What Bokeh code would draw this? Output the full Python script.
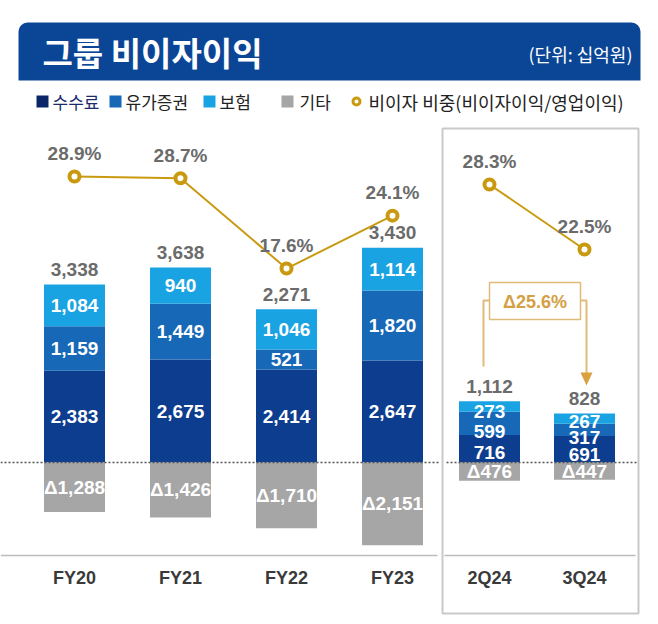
from bokeh.plotting import figure
from bokeh.models import Range1d, BoxAnnotation
from bokeh.core.properties import value
from bokeh.embed import file_html
from bokeh.resources import INLINE

# ---------------- data ----------------
title = "그룹 비이자이익"
unit_note = "(단위: 십억원)"
categories = ["FY20", "FY21", "FY22", "FY23", "2Q24", "3Q24"]
fees = [2383, 2675, 2414, 2647, 716, 691]          # 수수료
securities = [1159, 1449, 521, 1820, 599, 317]     # 유가증권
insurance = [1084, 940, 1046, 1114, 273, 267]      # 보험
others = [-1288, -1426, -1710, -2151, -476, -447]  # 기타
totals = [3338, 3638, 2271, 3430, 1112, 828]
ratio = [28.9, 28.7, 17.6, 24.1, 28.3, 22.5]       # 비이자 비중 (%)
legend_labels = ["수수료", "유가증권", "보험", "기타", "비이자 비중(비이자이익/영업이익)"]
change_label = "Δ25.6%"

# ---------------- style / layout ----------------
C_FEE, C_SEC, C_INS, C_OTH = "#0d3d8e", "#1769b8", "#1aa3e2", "#a6a6a6"
C_GOLD, C_GRAY_TXT, C_HEAD = "#c99a10", "#6b6b6b", "#0b4696"
C_ANN, C_ANN_TXT = "#e0bb78", "#d3a044"
KR = value("Noto Sans CJK KR")
NUM = value("Liberation Sans")

W, H = 645, 618
TOP, BOTTOM = 0, 618        # page y of plot top / bottom
ZERO_Y = 462                # page y of value 0
PX_PER_UNIT = 0.0385
BAR_W = 61

n_year, n_q = 4, 2
xs = [74 + 106 * i for i in range(n_year)] + [489 + 95 * j for j in range(n_q)]


def lin_range(anchor, slope):
    # page_y = anchor - slope * v
    return Range1d((anchor - BOTTOM) / slope, (anchor - TOP) / slope)


p = figure(width=W, height=H, x_range=Range1d(0, W),
           y_range=lin_range(ZERO_Y, PX_PER_UNIT),
           x_axis_type=None, y_axis_type=None,
           toolbar_location=None, output_backend="svg",
           min_border=0, min_border_left=0, min_border_right=0,
           min_border_top=0, min_border_bottom=0)
p.outline_line_color = None
p.background_fill_color = "white"
p.border_fill_color = "white"
p.extra_y_ranges = {
    "px": Range1d(BOTTOM, TOP),
    "pct": lin_range(411.3, 8.14),
    "pctq": lin_range(501.2, 11.21),
}

# ---------------- header ----------------
head = BoxAnnotation(left=18, right=640, top=22, bottom=80, y_range_name="px",
                     fill_color=C_HEAD, fill_alpha=1.0, line_color=None,
                     level="underlay", border_radius=(9, 9, 0, 0))
p.add_layout(head)
p.text(x=[42], y=[51], text=[title], y_range_name="px", text_color="white",
       text_font=KR, text_font_style="bold", text_font_size="33px",
       text_baseline="middle", text_align="left")
p.text(x=[632], y=[53], text=[unit_note], y_range_name="px", text_color="white",
       text_font=KR, text_font_size="18px", text_baseline="middle", text_align="right")

# ---------------- legend ----------------
leg_sq_x = [42, 115, 209, 287]
leg_txt_x = [52, 125, 219, 299]
leg_cols = ["#0a2669", C_SEC, C_INS, C_OTH]
LEG_Y = 101
p.scatter(x=leg_sq_x, y=[LEG_Y] * 4, marker="square", size=12, fill_color=leg_cols,
          line_color=None, y_range_name="px")
p.text(x=leg_txt_x, y=[LEG_Y] * 4, text=legend_labels[:4], y_range_name="px",
       text_color=["#1b2b6e", "#222222", "#222222", "#222222"], text_font=KR,
       text_font_size="17px", text_baseline="middle", text_align="left")
p.scatter(x=[356], y=[LEG_Y], size=7, fill_color="white", line_color=C_GOLD,
          line_width=3, y_range_name="px")
p.text(x=[368], y=[LEG_Y], text=[legend_labels[4]], y_range_name="px",
       text_color="#222222", text_font=KR, text_font_size="18px",
       text_baseline="middle", text_align="left")

# ---------------- quarterly frame ----------------
p.quad(left=[442], right=[638], top=[128], bottom=[613], y_range_name="px",
       fill_alpha=0, line_color="#c9c9c9", line_width=2)

# ---------------- bars ----------------
sec_bottom = fees
sec_top = [a + b for a, b in zip(fees, securities)]
ins_top = [a + b for a, b in zip(sec_top, insurance)]
zeros = [0] * len(categories)

p.vbar(x=xs, width=BAR_W, bottom=zeros, top=fees, fill_color=C_FEE, line_color=None)
p.vbar(x=xs, width=BAR_W, bottom=sec_bottom, top=sec_top, fill_color=C_SEC, line_color=None)
p.vbar(x=xs, width=BAR_W, bottom=sec_top, top=ins_top, fill_color=C_INS, line_color=None)
p.vbar(x=xs, width=BAR_W, bottom=others, top=zeros, fill_color=C_OTH, line_color=None)

# zero (dotted) and base lines
p.multi_line(xs=[[0, 438], [446, 636]], ys=[[0, 0], [0, 0]], line_color="#555555",
             line_width=1.6, line_dash="2 2")
p.multi_line(xs=[[0, 437], [444, 635]], ys=[[555, 555], [555, 555]], y_range_name="px",
             line_color="#bdbdbd", line_width=1.6)

# ---------------- inner labels ----------------
lab_x, lab_y, lab_t = [], [], []
for i in range(len(categories)):
    segs = [(0, fees[i]), (sec_bottom[i], sec_top[i]), (sec_top[i], ins_top[i])]
    vals = [fees[i], securities[i], insurance[i]]
    for k, ((b, t), v) in enumerate(zip(segs, vals)):
        if i < n_year:
            y = (b + t) / 2
        else:
            y = (k + 0.5) * ins_top[i] / 3
        lab_x.append(xs[i]); lab_y.append(y); lab_t.append(f"{v:,}")
    lab_x.append(xs[i]); lab_y.append(others[i] / 2); lab_t.append("Δ" + f"{-others[i]:,}")

p.text(x=lab_x, y=lab_y, text=lab_t, text_color="white", text_font=NUM,
       text_font_style="bold", text_font_size="19px", text_baseline="middle",
       text_align="center")

# totals
p.text(x=xs, y=ins_top, text=[f"{t:,}" for t in totals], y_offset=-15,
       text_color=C_GRAY_TXT, text_font=NUM, text_font_style="bold",
       text_font_size="19px", text_baseline="middle", text_align="center")

# ---------------- ratio line ----------------
for sl, rng in ((slice(0, n_year), "pct"), (slice(n_year, None), "pctq")):
    x_s, r_s = xs[sl], ratio[sl]
    p.line(x=x_s, y=r_s, y_range_name=rng, line_color=C_GOLD, line_width=2)
    p.scatter(x=x_s, y=r_s, y_range_name=rng, size=10, fill_color="white",
              line_color=C_GOLD, line_width=4)
    p.text(x=x_s, y=r_s, text=[f"{r:.1f}%" for r in r_s], y_range_name=rng,
           y_offset=-23, text_color=C_GRAY_TXT, text_font=NUM, text_font_style="bold",
           text_font_size="19px", text_baseline="middle", text_align="center")

# ---------------- change annotation ----------------
qa, qb = xs[n_year], xs[n_year + 1]
p.quad(left=[qa], right=[qb - 4], top=[282], bottom=[319], y_range_name="px",
       fill_color="white", line_color=C_ANN, line_width=1.5)
p.text(x=[(qa + qb - 4) / 2], y=[301], text=[change_label], y_range_name="px",
       text_color=C_ANN_TXT, text_font=NUM, text_font_style="bold",
       text_font_size="18px", text_baseline="middle", text_align="center")
p.multi_line(xs=[[qa, qa - 6, qa - 6], [qb - 4, qb + 2, qb + 2]],
             ys=[[300, 300, 366], [300, 300, 373]], y_range_name="px",
             line_color=C_ANN, line_width=2)
p.patch(x=[qb - 4, qb + 8, qb + 2], y=[372, 372, 385], y_range_name="px",
        fill_color="#d9a23e", line_color=None)

# ---------------- category labels ----------------
p.text(x=xs, y=[577] * len(categories), text=categories, y_range_name="px",
       text_color="#3a3a3a", text_font=NUM, text_font_style="bold",
       text_font_size="18px", text_baseline="middle", text_align="center")

open("out.html", "w").write(file_html(p, INLINE))
